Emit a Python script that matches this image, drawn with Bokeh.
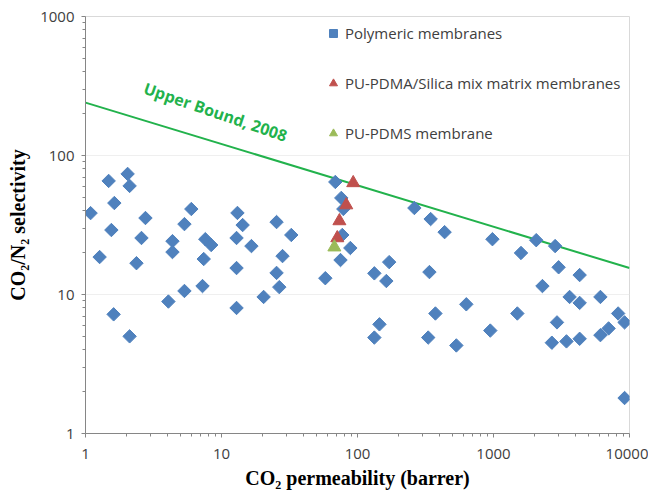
import math
from bokeh.plotting import figure
from bokeh.models import FixedTicker, PrintfTickFormatter, Label, Legend, LegendItem
from bokeh.embed import file_html
from bokeh.resources import INLINE

# ---- data ----
poly_x = [1.09, 1.48, 2.04, 2.11, 1.63, 2.76, 1.55, 2.58, 1.27, 2.37, 1.61, 2.11,
          6.0, 5.34, 4.36, 4.36, 7.6, 8.4, 7.4, 4.07, 5.34, 7.25,
          13.1, 14.3, 12.9, 16.6, 12.9, 25.4, 32.6, 28.1, 25.4, 26.6, 20.4, 12.9,
          58, 68.7, 76, 78.7, 77.3, 88.6, 75,
          262, 345, 437, 982, 171, 133, 163, 338, 631, 374, 145, 133, 331, 533, 947,
          1593, 2062, 2840, 3012, 4300, 2290, 3627, 4300, 6111, 1497, 2930, 8250,
          9200, 7020, 6111, 2686, 3440, 4300, 9200]
poly_y = [38.5, 65.6, 73.7, 60.4, 45.5, 35.5, 29.1, 25.5, 18.6, 16.8, 7.2, 5.0,
          41.2, 32.1, 24.2, 20.2, 25.0, 22.7, 18.0, 8.9, 10.6, 11.5,
          38.6, 31.6, 25.5, 22.3, 15.5, 33.2, 26.8, 18.9, 14.3, 11.3, 9.6, 8.0,
          13.1, 64.5, 49.5, 41.2, 26.8, 21.6, 17.7,
          41.9, 34.9, 28.1, 25.0, 17.1, 14.2, 12.5, 14.5, 8.5, 7.3, 6.1, 4.9, 4.9, 4.3, 5.5,
          19.9, 24.6, 22.3, 15.7, 13.8, 11.5, 9.6, 8.7, 9.6, 7.3, 6.3, 7.3,
          6.3, 5.7, 5.1, 4.5, 4.6, 4.8, 1.8]

mmm_x = [93, 82.7, 73.6, 71]
mmm_y = [63.5, 44, 33.8, 25.5]

pdms_x = [67.6]
pdms_y = [21.9]

ub_x = [1, 10000]
ub_y = [240, 15.5]

x_ticks = [1, 10, 100, 1000, 10000]
y_ticks = [1, 10, 100, 1000]

x_minor = [m * d for d in [1, 10, 100, 1000] for m in range(2, 10)]
y_minor = [m * d for d in [1, 10, 100] for m in range(2, 10)]

BLUE = "#4F81BD"
RED = "#C0504D"
GREEN = "#9BBB59"
LINE_GREEN = "#22B24C"
TXT = "#404040"

p = figure(width=648, height=494, x_axis_type="log", y_axis_type="log",
           x_range=(1, 10000), y_range=(1, 1000),
           output_backend="svg", toolbar_location=None,
           min_border_left=85, min_border_right=19, min_border_top=16, min_border_bottom=61)

p.background_fill_color = "white"
p.outline_line_color = "#d9d9d9"
p.xgrid.visible = False
p.ygrid.grid_line_color = "#efefef"
p.ygrid.ticker = FixedTicker(ticks=y_ticks)

for ax, ticks, minor in [(p.xaxis[0], x_ticks, x_minor), (p.yaxis[0], y_ticks, y_minor)]:
    ax.ticker = FixedTicker(ticks=ticks, minor_ticks=minor)
    ax.formatter = PrintfTickFormatter(format="%d")
    ax.axis_line_color = "#868686"
    ax.major_tick_line_color = "#868686"
    ax.minor_tick_line_color = "#868686"
    ax.major_tick_in = 0
    ax.major_tick_out = 4
    ax.minor_tick_in = 0
    ax.minor_tick_out = 3
    ax.major_label_text_font = "Open Sans"
    ax.major_label_text_font_size = "15px"
    ax.major_label_text_color = TXT
    ax.axis_label_text_font = "Liberation Serif"
    ax.axis_label_text_font_style = "bold"
    ax.axis_label_text_font_size = "20px"
    ax.axis_label_text_color = "black"

p.xaxis.major_label_standoff = 11
p.xaxis.axis_label_standoff = 5
p.yaxis.major_label_standoff = 7
p.yaxis.axis_label_standoff = 8

p.xaxis.axis_label = "CO\u2082 permeability (barrer)"
p.yaxis.axis_label = "CO\u2082/N\u2082 selectivity"

p.line(ub_x, ub_y, line_color=LINE_GREEN, line_width=2)

r_poly = p.scatter(poly_x, poly_y, marker="square", size=9.5, angle=math.pi / 4,
                   fill_color=BLUE, line_color=BLUE)
r_mmm = p.scatter(mmm_x, mmm_y, marker="triangle", size=13,
                  fill_color=RED, line_color=RED)
r_pdms = p.scatter(pdms_x, pdms_y, marker="triangle", size=13,
                   fill_color=GREEN, line_color=GREEN)

p.add_layout(Label(x=9.03, y=206, text="Upper Bound, 2008", angle=-0.33,
                   text_align="center", text_baseline="middle",
                   text_font="Open Sans", text_font_style="bold",
                   text_font_size="16px", text_color=LINE_GREEN))

legend = Legend(items=[
    LegendItem(label="Polymeric membranes", renderers=[r_poly]),
    LegendItem(label="PU-PDMA/Silica mix matrix membranes", renderers=[r_mmm]),
    LegendItem(label="PU-PDMS membrane", renderers=[r_pdms]),
], location=(238, 290))
legend.background_fill_alpha = 0
legend.border_line_alpha = 0
legend.padding = 0
legend.margin = 0
legend.spacing = 30
legend.label_height = 20
legend.glyph_height = 20
legend.glyph_width = 20
legend.label_standoff = 2
legend.label_text_font = "Open Sans"
legend.label_text_font_size = "15px"
legend.label_text_color = TXT
p.add_layout(legend)

open("out.html", "w").write(file_html(p, INLINE))
